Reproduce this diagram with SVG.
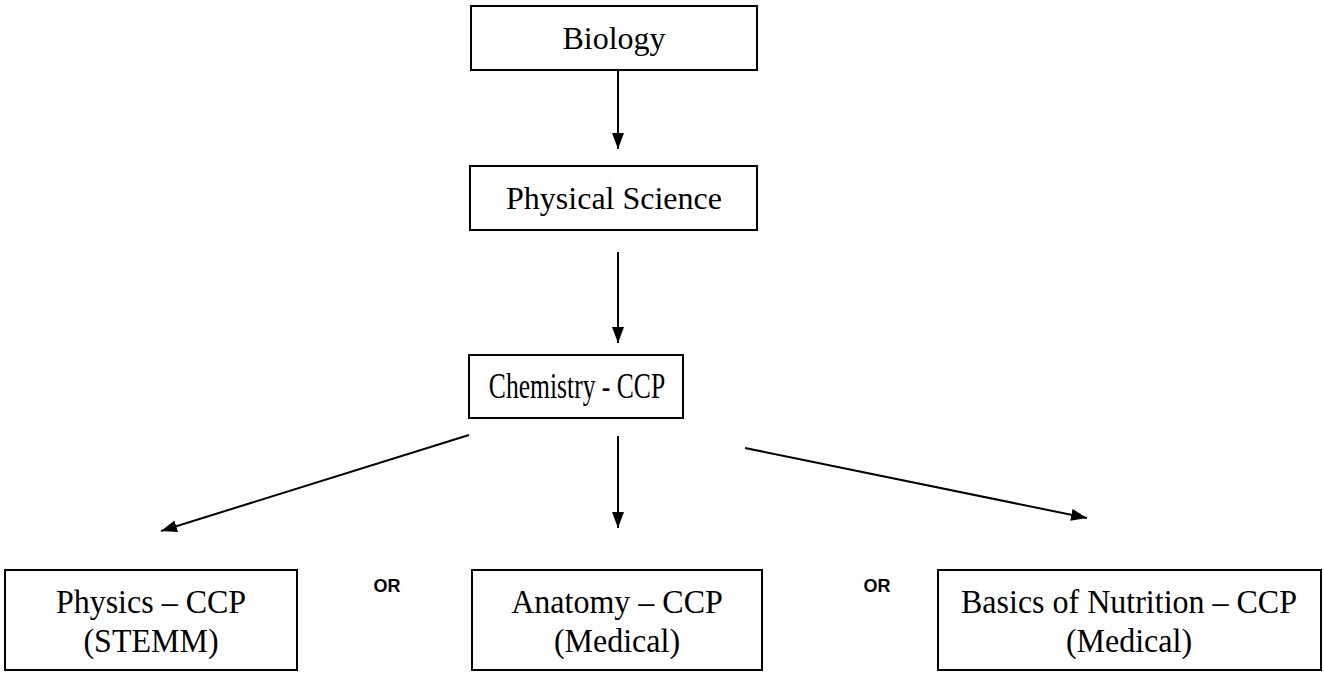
<svg xmlns="http://www.w3.org/2000/svg" width="1324" height="674" viewBox="0 0 1324 674">
<style>
.box{fill:#fff;stroke:#000;stroke-width:2}
.t{font-family:"Liberation Serif","Times New Roman",serif;font-size:32px;fill:#000;text-anchor:middle}
.or{font-family:"Liberation Sans",Arial,sans-serif;font-size:18px;font-weight:bold;fill:#000;text-anchor:middle}
.c{stroke:#000;stroke-width:2;fill:none;marker-end:url(#ah)}
</style>
<defs>
<marker id="ah" viewBox="0 0 16 12" refX="16" refY="6" markerWidth="16" markerHeight="12" markerUnits="userSpaceOnUse" orient="auto">
<path d="M0,0 L16,6 L0,12 Z" fill="#000"/>
</marker>
</defs>
<rect width="1324" height="674" fill="#fff"/>
<g id="connectors">
<line class="c" x1="618" y1="70" x2="618" y2="149"/>
<line class="c" x1="618" y1="252" x2="618" y2="343"/>
<line class="c" x1="469" y1="435" x2="161" y2="531"/>
<line class="c" x1="618" y1="436" x2="618" y2="528"/>
<line class="c" x1="745" y1="448" x2="1087" y2="518"/>
</g>
<g id="biology">
<rect class="box" x="471" y="6" width="286" height="64"/>
<text class="t" x="614" y="49">Biology</text>
</g>
<g id="physical-science">
<rect class="box" x="470" y="166" width="287" height="64"/>
<text class="t" x="614" y="209">Physical Science</text>
</g>
<g id="chemistry">
<rect class="box" x="469" y="355" width="214" height="63"/>
<text class="t" transform="translate(577,398) scale(0.8,1.12)">Chemistry - CCP</text>
</g>
<g id="physics">
<rect class="box" x="5" y="570" width="292" height="100"/>
<text class="t" transform="translate(151,613) scale(1,1.08)">Physics – CCP</text>
<text class="t" transform="translate(151,652) scale(1,1.08)">(STEMM)</text>
</g>
<g id="or1"><text class="or" x="387" y="592">OR</text></g>
<g id="anatomy">
<rect class="box" x="472" y="570" width="290" height="100"/>
<text class="t" transform="translate(617,613) scale(1,1.08)">Anatomy – CCP</text>
<text class="t" transform="translate(617,652) scale(1,1.08)">(Medical)</text>
</g>
<g id="or2"><text class="or" x="877" y="592">OR</text></g>
<g id="nutrition">
<rect class="box" x="938" y="570" width="383" height="100"/>
<text class="t" transform="translate(1129,613) scale(1,1.08)">Basics of Nutrition – CCP</text>
<text class="t" transform="translate(1129,652) scale(1,1.08)">(Medical)</text>
</g>
</svg>
